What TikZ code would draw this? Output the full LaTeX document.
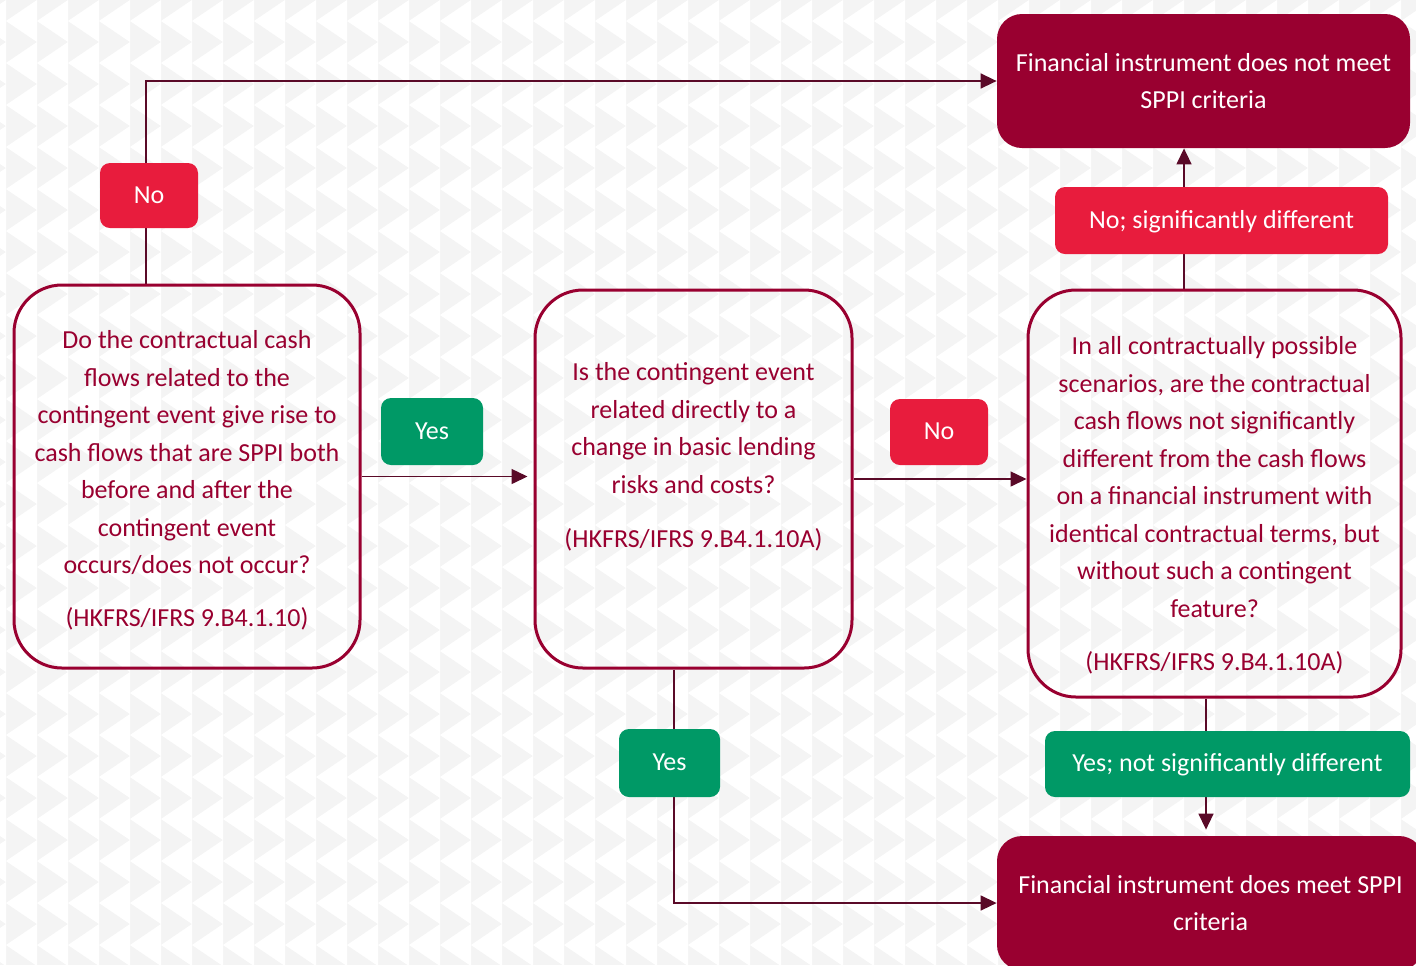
\documentclass[tikz,border=0pt]{standalone}
\usepackage{fontspec}
\setmainfont{Carlito}
\usepackage{xcolor}
\usetikzlibrary{arrows.meta, positioning, calc, backgrounds}

\definecolor{sppiwine}{RGB}{153,0,48}
\definecolor{sppired}{RGB}{232,28,61}
\definecolor{sppigreen}{RGB}{0,153,102}
\definecolor{sppiline}{RGB}{90,10,40}
\definecolor{sppibg}{RGB}{244,244,244}

\tikzset{
    result/.style={fill=sppiwine, text=white, rounded corners=12.5pt, align=center, inner sep=0pt},
    question/.style={draw=sppiwine, line width=1.5pt, rounded corners=24pt, inner sep=0pt},
    qtext/.style={text=sppiwine, align=center, inner sep=0pt},
    nolabel/.style={fill=sppired, text=white, rounded corners=5pt, inner sep=0pt, text height=0.9em, text depth=0.12em},
    yeslabel/.style={fill=sppigreen, text=white, rounded corners=5pt, inner sep=0pt, text height=0.9em, text depth=0.12em},
    flow/.style={draw=sppiline, line width=0.75pt, -{Triangle[length=8pt,width=7.5pt]}},
}

\begin{document}
\begin{tikzpicture}[x=0.5pt, y=-0.5pt, font=\fontsize{13pt}{18.75pt}\selectfont]
    \useasboundingbox (0,0) rectangle (1416,965);
    \clip (0,0) rectangle (1416,965);
    % background pattern
    \begin{scope}[on background layer]
        \fill[sppibg] (0,0) rectangle (1416,965);
        \foreach \i in {-1,...,45} {
            \foreach \j in {0,...,23} {
                \fill[white] ({31*\i+6},{42*\j+21}) -- ({31*\i+37},{42*\j}) -- ({31*\i+37},{42*\j+42}) -- cycle;
            }
        }
    \end{scope}

    % outcomes
    \node[result, minimum width=206.5pt, minimum height=67pt] (r1) at (1203.5, 81) {
        Financial instrument does not meet\\
        SPPI criteria
    };
    \node[result, minimum width=213.5pt, minimum height=67pt] (r2) at (1210.5, 903) {
        Financial instrument does meet SPPI\\
        criteria
    };

    % questions
    \node[question, minimum width=173pt, minimum height=191.5pt] (q1) at (187, 476.5) {};
    \node[qtext] at ([yshift=-2pt]q1.center) {
        Do the contractual cash\\
        flows related to the\\
        contingent event give rise to\\
        cash flows that are SPPI both\\
        before and after the\\
        contingent event\\
        occurs/does not occur?\\[7.75pt]
        (HKFRS/IFRS 9.B4.1.10)
    };
    \node[question, minimum width=158.5pt, minimum height=189pt] (q2) at (693.5, 479) {};
    \node[qtext] at ([yshift=11pt]q2.center) {
        Is the contingent event\\
        related directly to a\\
        change in basic lending\\
        risks and costs?\\[8.25pt]
        (HKFRS/IFRS 9.B4.1.10A)
    };
    \node[question, minimum width=186.5pt, minimum height=203.5pt] (q3) at (1214.5, 493.5) {};
    \node[qtext] at ([yshift=-6pt]q3.center) {
        In all contractually possible\\
        scenarios, are the contractual\\
        cash flows not significantly\\
        different from the cash flows\\
        on a financial instrument with\\
        identical contractual terms, but\\
        without such a contingent\\
        feature?\\[7.75pt]
        (HKFRS/IFRS 9.B4.1.10A)
    };

    % answer labels
    \node[nolabel, minimum width=49pt, minimum height=32.5pt] (noA) at (149, 195.5) {No};
    \node[yeslabel, minimum width=51pt, minimum height=33.5pt] (yesA) at (432, 431.5) {Yes};
    \node[nolabel, minimum width=49pt, minimum height=33pt] (noB) at (939, 432) {No};
    \node[nolabel, minimum width=166.5pt, minimum height=33.5pt] (noC) at (1221.5, 220.5) {No; significantly different};
    \node[yeslabel, minimum width=50.5pt, minimum height=34pt] (yesB) at (669.5, 763) {Yes};
    \node[yeslabel, minimum width=182.5pt, minimum height=33pt] (yesC) at (1227.5, 764) {Yes; not significantly different};

    % connectors
    \begin{scope}[on background layer]
        \draw[flow] ([xshift=-20.5pt]q1.north) |- (r1.west);
        \draw[flow, shorten >=3pt] (q1.east) -- (q1.east -| q2.west);
        \draw[flow] (q2.east) -- (q2.east -| q3.west);
        \draw[flow] ([xshift=-15.25pt]q3.north) -- ([xshift=-15.25pt]q3.north |- r1.south);
        \draw[flow, shorten >=3pt] ([xshift=-4.25pt]q3.south) -- ([xshift=-4.25pt]q3.south |- r2.north);
        \draw[flow] ([xshift=-9.75pt]q2.south) |- (r2.west);
    \end{scope}
\end{tikzpicture}
\end{document}
